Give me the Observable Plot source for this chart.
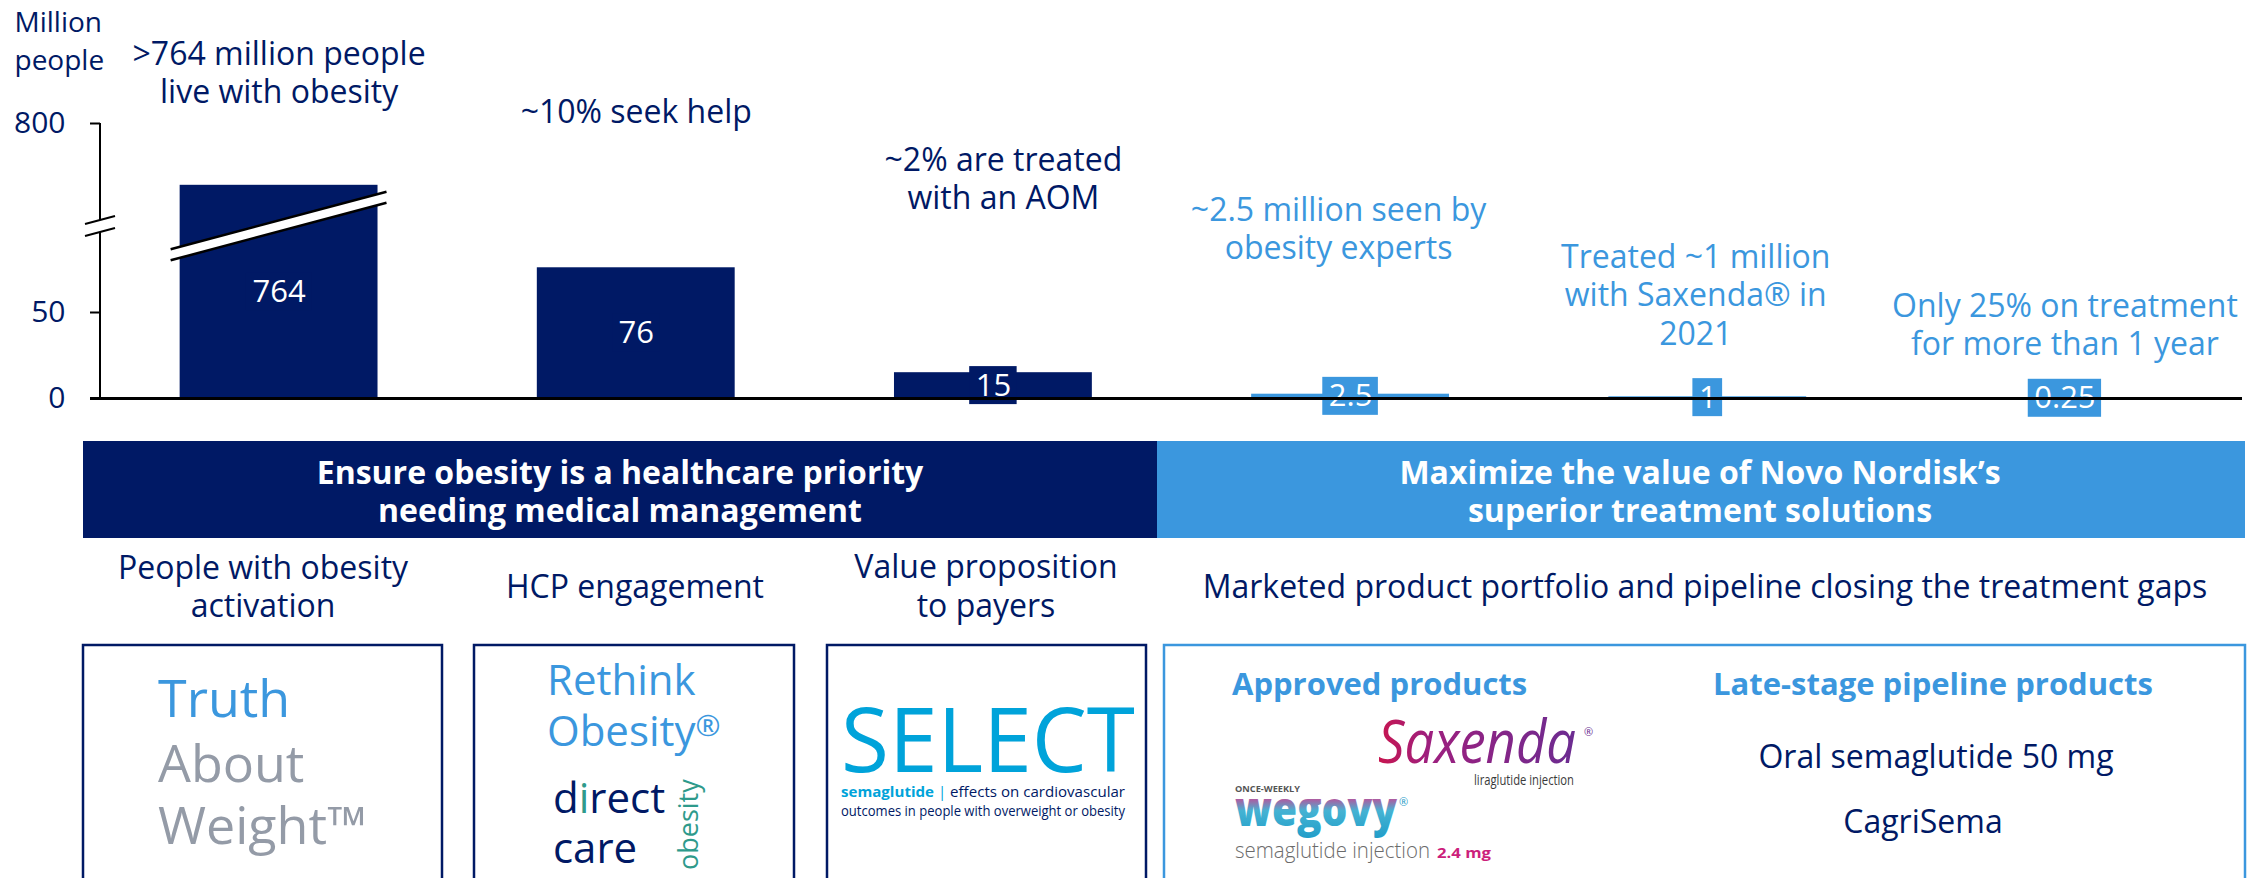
<!DOCTYPE html>
<html>
<head>
<meta charset="utf-8">
<script src="https://cdn.jsdelivr.net/npm/d3@7"></script>
<script src="https://cdn.jsdelivr.net/npm/@observablehq/plot@0.6"></script>
<style>
  html, body { margin: 0; padding: 0; background: #ffffff; }
  #page { position: relative; width: 2265px; height: 878px; overflow: hidden; font-family: "Open Sans", sans-serif; }
  #chart svg { display: block; }
  #panels { position: absolute; left: 0; top: 440px; display: block; }
</style>
</head>
<body>
<div id="page">
  <div id="chart"></div>
  <svg id="panels" width="2265" height="438"></svg>
</div>
<script>
// ---------------- data ----------------
const categories = ["Live with obesity", "Seek help", "Treated with an AOM", "Seen by obesity experts", "Treated with Saxenda", "On treatment > 1 year"];
const values = [764, 76, 15, 2.5, 1, 0.25];
const valueLabels = ["764", "76", "15", "2.5", "1", "0.25"];
const phases = ["priority", "priority", "priority", "solutions", "solutions", "solutions"];
const phaseNames = ["priority", "solutions"];
const notes = [
  ">764 million people\nlive with obesity",
  "~10% seek help",
  "~2% are treated\nwith an AOM",
  "~2.5 million seen by\nobesity experts",
  "Treated ~1 million\nwith Saxenda® in\n2021",
  "Only 25% on treatment\nfor more than 1 year"
];
const yTicks = [0, 50, 800];
const yBreak = [100, 740];   // values between these are cut out of the axis
const yTop = 800;
const yLabel = "Million\npeople";

const rows = categories.map((c, i) => ({category: c, value: values[i], label: valueLabels[i], phase: phases[i], note: notes[i]}));

// ---------------- styles ----------------
const navy = "#001965", sky = "#3B97DE", teal = "#2E9A8B", grey = "#949BA7", cyan = "#00A3DA";
const FONT = '"Open Sans", sans-serif';

// ---------------- scales ----------------
const xOpts = {type: "band", domain: categories, range: [100, 2243], paddingInner: 0.446, paddingOuter: 0.223, round: false};
const yOpts = {type: "linear", domain: [0, yBreak[0], yBreak[1], yTop], range: [398, 226, 226, 123]};
const xs = Plot.scale({x: xOpts});
const ys = Plot.scale({y: yOpts});
const midValue = v => ys.invert((ys.apply(v) + ys.apply(0)) / 2);

const labelFont = 31;
const measure = (() => {
  const ctx = document.createElement("canvas").getContext("2d");
  ctx.font = `${labelFont}px "Open Sans"`;
  return s => ctx.measureText(s).width;
})();

// boxes behind value labels (same colour as the bar)
function labelBoxes() {
  const g = d3.create("svg:g");
  rows.forEach(d => {
    const w = measure(d.label) + 12, h = 38;
    const cx = xs.apply(d.category) + xs.bandwidth / 2;
    const cy = ys.apply(midValue(d.value));
    g.append("rect").attr("x", cx - w / 2).attr("y", cy - h / 2).attr("width", w).attr("height", h)
      .attr("fill", d.phase === phaseNames[0] ? navy : sky);
  });
  return g.node();
}

// y axis line with break, and the break across the tall bar
function axisBreak(index, scales, values, dimensions) {
  const g = d3.create("svg:g");
  const x0 = dimensions.marginLeft;
  const yb = ys.apply(yBreak[0]);
  const gap = 6, k = -0.267;
  g.append("line").attr("x1", x0).attr("x2", x0).attr("y1", ys.apply(yTop)).attr("y2", yb - gap)
    .attr("stroke", "black").attr("stroke-width", 2);
  g.append("line").attr("x1", x0).attr("x2", x0).attr("y1", yb + gap).attr("y2", ys.apply(0))
    .attr("stroke", "black").attr("stroke-width", 2);
  const seg = (cx, cy, h) => [[cx - h, cy - k * h], [cx + h, cy + k * h]];
  for (const s of [-gap, gap]) {
    const [[a, b], [c, e]] = seg(x0, yb + s, 15);
    g.append("line").attr("x1", a).attr("y1", b).attr("x2", c).attr("y2", e).attr("stroke", "black").attr("stroke-width", 2);
  }
  rows.filter(d => d.value > yBreak[1]).forEach(d => {
    const cx = xs.apply(d.category) + xs.bandwidth / 2;
    const h = xs.bandwidth / 2 + 9, gb = 5.5;
    const up = seg(cx, yb - gb, h), lo = seg(cx, yb + gb, h);
    g.append("polygon").attr("points", [up[0], up[1], lo[1], lo[0]].map(p => p.join(",")).join(" ")).attr("fill", "white");
    for (const l of [up, lo]) {
      g.append("line").attr("x1", l[0][0]).attr("y1", l[0][1]).attr("x2", l[1][0]).attr("y2", l[1][1])
        .attr("stroke", "black").attr("stroke-width", 2.5);
    }
  });
  return g.node();
}

// placement of the annotation blocks above each bar (staircase)
const noteTop = [37, 95, 143, 193, 240, 289];
const noteShift = [0, 0, 10, -12, -12, 0];

const chart = Plot.plot({
  width: 2265,
  height: 440,
  marginLeft: 100,
  marginRight: 23,
  marginTop: 0,
  marginBottom: 0,
  style: {fontFamily: FONT, color: navy, background: "transparent", overflow: "visible"},
  x: {...xOpts, axis: null},
  y: {...yOpts},
  color: {domain: phaseNames, range: [navy, sky]},
  marks: [
    Plot.barY(rows, {x: "category", y: "value", fill: "phase"}),
    labelBoxes,
    Plot.text(rows, {x: "category", y: d => midValue(d.value), text: "label", fill: "white", fontSize: labelFont}),
    axisBreak,
    Plot.ruleY([0], {stroke: "black", strokeWidth: 3, insetLeft: -10}),
    Plot.axisY({ticks: yTicks, tickSize: 10, tickPadding: 25, fontSize: 30, stroke: "black", strokeWidth: 2, label: null, tickFormat: d => String(d)}),
    Plot.text([yLabel], {text: d => d, frameAnchor: "top-left", textAnchor: "start", lineAnchor: "top", dx: -86, dy: 5, fontSize: 28, lineHeight: 1.35, fill: navy}),
    ...rows.map((d, i) => Plot.text([d], {x: "category", text: "note", fill: "phase", frameAnchor: "top", lineAnchor: "top", dx: noteShift[i], dy: noteTop[i], fontSize: 32, lineHeight: 1.2}))
  ]
});
document.getElementById("chart").appendChild(chart);

// ---------------- lower panels ----------------
const OFF = 440;
const P = d3.select("#panels").style("font-family", FONT);
const defs = P.append("defs");
const sg = defs.append("linearGradient").attr("id", "saxGrad").attr("x1", "0").attr("x2", "1").attr("y1", "0").attr("y2", "0");
sg.append("stop").attr("offset", "0").attr("stop-color", "#C8154F");
sg.append("stop").attr("offset", "0.25").attr("stop-color", "#9E1F7E");
sg.append("stop").attr("offset", "1").attr("stop-color", "#6B2C91");
const wg = defs.append("linearGradient").attr("id", "wegGrad").attr("x1", "0").attr("x2", "0").attr("y1", "0").attr("y2", "1");
wg.append("stop").attr("offset", "0.3").attr("stop-color", "#D9388C");
wg.append("stop").attr("offset", "0.55").attr("stop-color", "#45B3D3");
wg.append("stop").attr("offset", "1").attr("stop-color", "#1F9CC8");

function rect(x, y, w, h, attrs) {
  const r = P.append("rect").attr("x", x).attr("y", y - OFF).attr("width", w).attr("height", h);
  for (const k in attrs) r.attr(k, attrs[k]);
  return r;
}
function txt(x, y, s, attrs = {}) {
  const t = P.append("text").attr("x", x).attr("y", y - OFF);
  if (s != null) t.text(s);
  for (const k in attrs) t.attr(k, attrs[k]);
  return t;
}

// headers
rect(83, 441, 1074, 97, {fill: navy});
rect(1157, 441, 1088, 97, {fill: sky});
const hdr = {"fill": "white", "font-size": 32, "font-weight": 700, "text-anchor": "middle"};
txt(620, 483.5, "Ensure obesity is a healthcare priority", hdr);
txt(620, 521.5, "needing medical management", hdr);
txt(1700, 483.5, "Maximize the value of Novo Nordisk’s", hdr);
txt(1700, 521.5, "superior treatment solutions", hdr);

// sub labels
const sub = {"fill": navy, "font-size": 32, "text-anchor": "middle"};
txt(263, 579, "People with obesity", sub);
txt(263, 617, "activation", sub);
txt(635, 598, "HCP engagement", sub);
txt(986, 578, "Value proposition", sub);
txt(986, 617, "to payers", sub);
txt(1705, 598, "Marketed product portfolio and pipeline closing the treatment gaps", sub);

// boxes
const bx = {"fill": "none", "stroke": navy, "stroke-width": 2.5};
rect(83, 645, 359, 260, bx);
rect(474, 645, 320, 260, bx);
rect(827, 645, 319, 260, bx);
rect(1164, 645, 1081, 260, {...bx, stroke: sky});

// box 1
txt(158, 717, "Truth", {"fill": sky, "font-size": 52});
txt(158, 782, "About", {"fill": grey, "font-size": 52});
txt(158, 844, "Weight™", {"fill": grey, "font-size": 52});

// box 2
txt(547, 695, "Rethink", {"fill": sky, "font-size": 42});
const ob = txt(547, 746, null, {"fill": sky, "font-size": 42});
ob.append("tspan").text("Obesity");
ob.append("tspan").attr("font-size", 30).attr("dy", -10).text("®");
const dc = txt(553, 813, null, {"fill": navy, "font-size": 42});
dc.append("tspan").text("d");
dc.append("tspan").attr("fill", teal).text("i");
dc.append("tspan").text("rect");
txt(553, 863, "care", {"fill": navy, "font-size": 42});
P.append("text").attr("transform", `translate(698,${870 - OFF}) rotate(-90)`).attr("fill", teal).attr("font-size", 27).text("obesity");

// box 3
txt(841, 772, "SELECT", {"fill": cyan, "font-size": 90, "textLength": 294, "lengthAdjust": "spacingAndGlyphs"});
const s1 = txt(841, 797, null, {"font-size": 14, "textLength": 284, "lengthAdjust": "spacingAndGlyphs", "fill": navy});
s1.append("tspan").attr("fill", cyan).attr("font-weight", 700).text("semaglutide");
s1.append("tspan").attr("fill", cyan).text("  |  ");
s1.append("tspan").text("effects on cardiovascular");
txt(841, 816, "outcomes in people with overweight or obesity", {"fill": navy, "font-size": 14, "textLength": 284, "lengthAdjust": "spacingAndGlyphs"});

// box 4
txt(1232, 695, "Approved products", {"fill": sky, "font-size": 31, "font-weight": 700});
txt(1933, 695, "Late-stage pipeline products", {"fill": sky, "font-size": 31, "font-weight": 700, "text-anchor": "middle"});
txt(1936, 768, "Oral semaglutide 50 mg", {"fill": navy, "font-size": 32, "text-anchor": "middle"});
txt(1923, 833, "CagriSema", {"fill": navy, "font-size": 32, "text-anchor": "middle"});

// Saxenda
txt(1378, 763, "Saxenda", {"fill": "url(#saxGrad)", "font-size": 60, "font-style": "italic", "textLength": 198, "lengthAdjust": "spacingAndGlyphs"});
txt(1584, 736, "®", {"fill": "#6B2C91", "font-size": 11});
txt(1474, 785, "liraglutide injection", {"fill": "#3a3a3a", "font-size": 15, "textLength": 100, "lengthAdjust": "spacingAndGlyphs"});
// Wegovy
txt(1235, 792, "ONCE-WEEKLY", {"fill": "#555", "font-size": 9, "font-weight": 700, "textLength": 65, "lengthAdjust": "spacingAndGlyphs"});
txt(1235, 826, "wegovy", {"fill": "url(#wegGrad)", "font-size": 48, "font-weight": 800, "textLength": 162, "lengthAdjust": "spacingAndGlyphs"});
txt(1399, 806, "®", {"fill": "#1F9CC8", "font-size": 11});
txt(1235, 858, "semaglutide injection", {"fill": "#6b6b6b", "font-size": 22, "font-weight": 300, "textLength": 195, "lengthAdjust": "spacingAndGlyphs"});
txt(1437, 858, "2.4 mg", {"fill": "#CC1F7C", "font-size": 15, "font-weight": 700, "textLength": 54, "lengthAdjust": "spacingAndGlyphs"});
</script>
</body>
</html>
